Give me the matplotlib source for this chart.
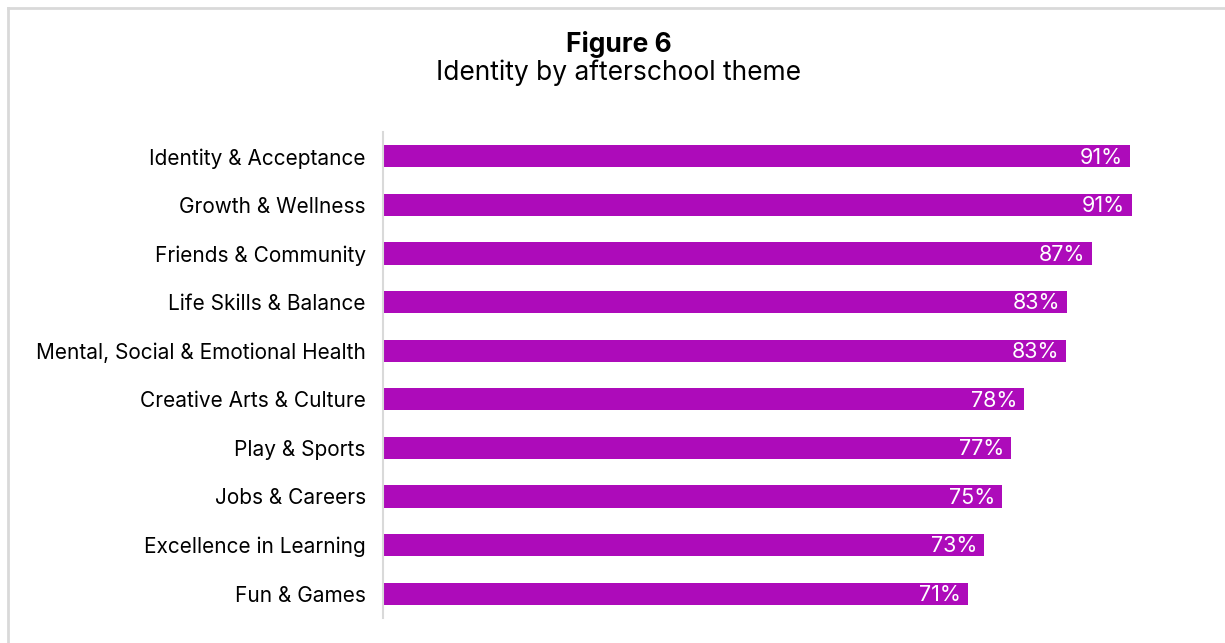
import matplotlib.pyplot as plt
import matplotlib.lines as mlines

themes = ['Identity & Acceptance', 'Growth & Wellness', 'Friends & Community',
          'Life Skills & Balance', 'Mental, Social & Emotional Health',
          'Creative Arts & Culture', 'Play & Sports', 'Jobs & Careers',
          'Excellence in Learning', 'Fun & Games']
values = [91.2, 91.45, 86.6, 83.5, 83.4, 78.3, 76.7, 75.6, 73.4, 71.4]
labels = ['91%', '91%', '87%', '83%', '83%', '78%', '77%', '75%', '73%', '71%']

BAR_COLOR = '#ad0bba'


def main():
    plt.rcParams['font.family'] = ['Inter', 'DejaVu Sans']
    fig = plt.figure(figsize=(12.25, 6.43), dpi=100)
    ax = fig.add_axes([383 / 1225, 1 - 618 / 643, 819 / 1225, 486 / 643])

    pos = list(range(len(themes)))
    ax.barh(pos, values, height=0.46, color=BAR_COLOR)
    for p, v, lab in zip(pos, values, labels):
        ax.annotate(lab, (v, p), xytext=(-5, -1), textcoords='offset points',
                    ha='right', va='center', color='white', fontsize=15.5)

    ax.set_xlim(0, 100)
    ax.set_ylim(len(themes) - 0.5, -0.5)
    ax.set_yticks(pos)
    ax.set_yticklabels(themes, fontsize=15)
    ax.tick_params(axis='y', length=0, pad=12.5)
    ax.set_xticks([])
    for s in ['top', 'right', 'bottom']:
        ax.spines[s].set_visible(False)
    ax.spines['left'].set_color('#d9d9d9')
    ax.spines['left'].set_linewidth(1.5)

    fig.text(619 / 1225, 1 - 44 / 643, 'Figure 6', ha='center', va='center',
             fontsize=19, fontweight='bold')
    fig.text(619 / 1225, 1 - 73 / 643, 'Identity by afterschool theme',
             ha='center', va='center', fontsize=19)

    # light grey frame at top-left
    fig.add_artist(mlines.Line2D([8 / 1225, 8 / 1225], [0, 1 - 8 / 643],
                                 color='#d9d9d9', lw=2, transform=fig.transFigure))
    fig.add_artist(mlines.Line2D([8 / 1225, 1], [1 - 8 / 643, 1 - 8 / 643],
                                 color='#d9d9d9', lw=2, transform=fig.transFigure))

    fig.savefig('out.png', dpi=100)


if __name__ == "__main__":
    main()
